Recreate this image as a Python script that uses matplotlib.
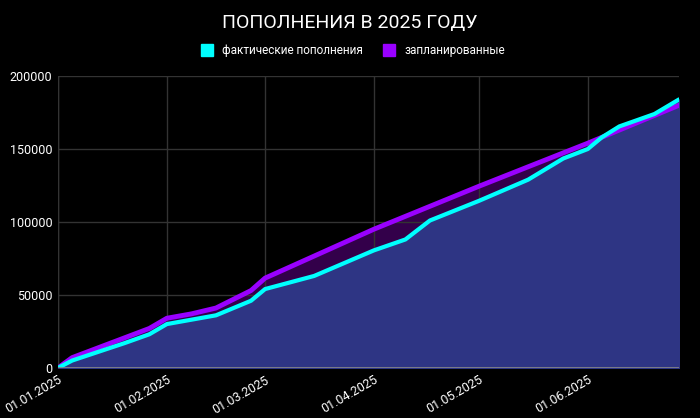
import matplotlib
matplotlib.use("Agg")
import matplotlib.pyplot as plt
import matplotlib.dates as mdates
from matplotlib.lines import Line2D
import pandas as pd

plt.rcParams['font.family'] = ['Roboto', 'DejaVu Sans']

actual_dates = ["2025-01-01","2025-01-05","2025-01-10","2025-01-20","2025-01-27","2025-02-01","2025-02-08","2025-02-15",
                "2025-02-25","2025-03-01","2025-03-15","2025-04-01","2025-04-10","2025-04-17","2025-05-01","2025-05-15",
                "2025-05-25","2025-06-01","2025-06-05","2025-06-10","2025-06-20","2025-06-27"]
actual_values = [0,5000,9000,17000,23000,30000,33000,36000,46000,54000,63000,80500,88000,101000,114500,129000,
                 143500,150000,158000,165500,174000,184000]
plan_dates = ["2025-01-01","2025-01-05","2025-01-27","2025-02-01","2025-02-08","2025-02-15","2025-02-25","2025-03-01",
              "2025-04-01","2025-05-01","2025-06-01","2025-06-27"]
plan_values = [0,7000,27000,34000,37000,41000,53000,61500,95000,124500,154000,180000]

ad = pd.to_datetime(actual_dates)
pdts = pd.to_datetime(plan_dates)

fig = plt.figure(figsize=(7, 4.18), dpi=100, facecolor='black')
ax = fig.add_axes([0.083, 0.12, 0.887, 0.698], facecolor='black')

ax.fill_between(pdts, plan_values, color='#33004a', zorder=1)
ax.fill_between(ad, actual_values, color='#2e3584', zorder=2)
ax.plot(pdts, plan_values, color='#9900ff', lw=3.5, zorder=4, solid_capstyle='round')
ax.plot(ad, actual_values, color='#00ffff', lw=3, zorder=5, solid_capstyle='round')

ax.set_xlim(pd.Timestamp("2025-01-01"), pd.Timestamp("2025-06-27"))
ax.set_ylim(0, 200000)
ax.set_yticks([0, 50000, 100000, 150000, 200000])
ticks = pd.to_datetime(["2025-01-01","2025-02-01","2025-03-01","2025-04-01","2025-05-01","2025-06-01"])
ax.set_xticks(ticks)
ax.xaxis.set_major_formatter(mdates.DateFormatter('%d.%m.%Y'))
plt.setp(ax.get_xticklabels(), rotation=30, ha='right', rotation_mode='anchor')
ax.tick_params(colors='white', labelsize=9, length=0, pad=4)
ax.grid(True, color='#333333', lw=1, zorder=3)
ax.grid(True, color='#4a4f99', lw=1, zorder=3) if False else None
for s in ax.spines.values():
    s.set_visible(False)
ax.axhline(0, color='#888888', lw=1.2, zorder=6)
ax.axvline(ax.get_xlim()[0], color='#333333', lw=1, zorder=3)

fig.text(0.5, 0.945, 'ПОПОЛНЕНИЯ В 2025 ГОДУ', color='white', fontsize=14, ha='center', va='center')
handles = [Line2D([], [], marker='s', ls='', color='#00ffff', markersize=9),
           Line2D([], [], marker='s', ls='', color='#9900ff', markersize=9)]
fig.legend(handles, ['фактические пополнения', 'запланированные'], loc='center', bbox_to_anchor=(0.5, 0.88),
           ncol=2, frameon=False, labelcolor='white', fontsize=8.5, handletextpad=0.3, columnspacing=1.2)

fig.savefig('out.png', dpi=100, facecolor='black')
